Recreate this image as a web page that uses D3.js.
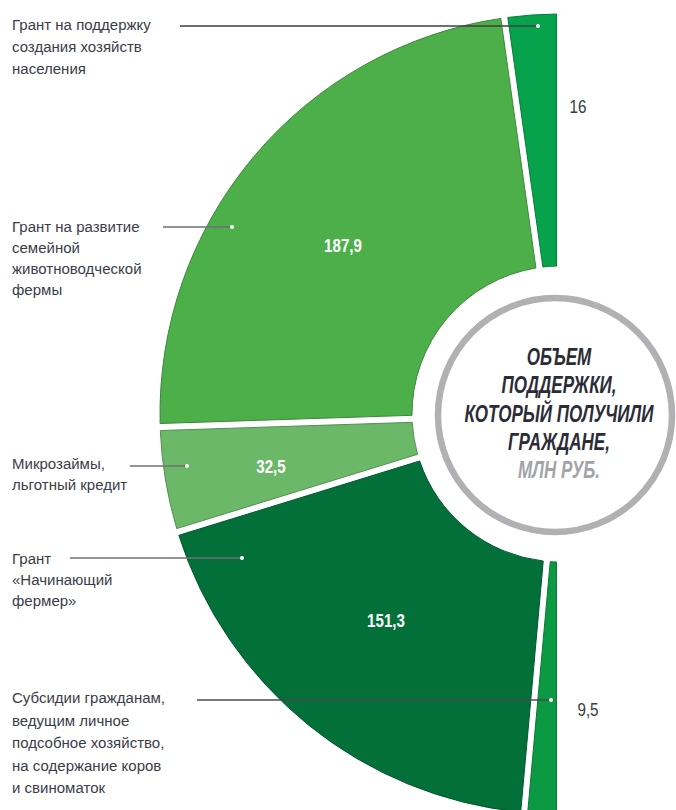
<!DOCTYPE html>
<html>
<head>
<meta charset="utf-8">
<script src="https://cdn.jsdelivr.net/npm/d3@7"></script>
<style>
  html, body { margin: 0; padding: 0; background: #fff; }
  svg { display: block; }
</style>
</head>
<body>
<script>
// ---------- data ----------
const categories = [
  ["Грант на поддержку", "создания хозяйств", "населения"],
  ["Грант на развитие", "семейной", "животноводческой", "фермы"],
  ["Микрозаймы,", "льготный кредит"],
  ["Грант", "«Начинающий", "фермер»"],
  ["Субсидии гражданам,", "ведущим личное", "подсобное хозяйство,", "на содержание коров", "и свиноматок"]
];
const values = [16, 187.9, 32.5, 151.3, 9.5];
const valueLabels = ["16", "187,9", "32,5", "151,3", "9,5"];
const colors = ["#07a24c", "#4daf49", "#6cb869", "#03703a", "#0b9a43"];
const titleLines = ["ОБЪЕМ", "ПОДДЕРЖКИ,", "КОТОРЫЙ ПОЛУЧИЛИ", "ГРАЖДАНЕ,"];
const unitLine = "МЛН РУБ.";

// ---------- layout ----------
const W = 676, H = 810;
const cx = 560, cy = 414, R = 400, r0 = 148;
const labelFirstBaseline = [30, 232, 469, 564, 703];
const labelLineGap = [22, 21, 21, 21, 22.5];
const leaderY = [26, 227, 466, 558, 700];
const leaderStartX = [180, 163, 130, 70, 197];
const dotX = [538, 232, 187, 242, 551];
const leaderColor = ["#3e3e46", "#707075", "#707075", "#707075", "#4a4a52"];
const valuePos = [[578, 113, "out"], [343, 252, "in"], [271, 473, "in"], [386, 627, "in"], [588, 716, "out"]];

const svg = d3.select("body").append("svg").attr("width", W).attr("height", H);

const pie = d3.pie().sort(null).startAngle(0).endAngle(-Math.PI).padAngle(0.0165);
const arc = d3.arc().innerRadius(r0).outerRadius(R).padRadius(Math.sqrt(r0 * r0 + R * R));
const arcs = pie(values);

const g = svg.append("g").attr("transform", `translate(${cx},${cy})`);
g.selectAll("path.slice").data(arcs).enter().append("path")
  .attr("class", "slice")
  .attr("d", arc)
  .attr("fill", (d, i) => colors[i])
  .attr("stroke", (d, i) => d3.color(colors[i]).darker(0.7))
  .attr("stroke-width", 1);

// centre circle
svg.append("circle").attr("cx", 555).attr("cy", 415).attr("r", 117)
  .attr("fill", "#fff").attr("stroke", "#b1b1b4").attr("stroke-width", 6.5);

// condensed text helper
function ctext(parent, x, y, str, opts) {
  return parent.append("text")
    .attr("transform", `translate(${x},${y}) scale(${opts.sx || 1},1)`)
    .attr("text-anchor", opts.anchor || "start")
    .attr("font-family", opts.family || "'Liberation Sans', Arial, sans-serif")
    .attr("font-size", opts.size)
    .attr("font-weight", opts.weight || "normal")
    .attr("font-style", opts.style || "normal")
    .attr("fill", opts.fill)
    .text(str);
}

// title in circle
const titleBase = [365, 393, 422, 450];
titleLines.forEach((t, i) => ctext(svg, 559, titleBase[i], t,
  {anchor: "middle", size: 24, weight: "bold", style: "italic", sx: 0.71, fill: "#2c2c36"}));
ctext(svg, 559, 478, unitLine,
  {anchor: "middle", size: 24, weight: "bold", style: "italic", sx: 0.71, fill: "#a3a3a8"});

// category labels + leaders
categories.forEach((lines, i) => {
  lines.forEach((t, j) => ctext(svg, 12, labelFirstBaseline[i] + j * labelLineGap[i], t,
    {size: 15.5, fill: "#3c3c48", sx: 0.97}));
  svg.append("line")
    .attr("x1", leaderStartX[i]).attr("x2", dotX[i])
    .attr("y1", leaderY[i]).attr("y2", leaderY[i])
    .attr("stroke", leaderColor[i]).attr("stroke-width", 1.4);
  svg.append("circle").attr("cx", dotX[i]).attr("cy", leaderY[i]).attr("r", 2)
    .attr("fill", "#fff");
});

// value labels
valueLabels.forEach((t, i) => {
  const [x, y, kind] = valuePos[i];
  if (kind === "in") {
    ctext(svg, x, y, t, {anchor: "middle", size: 18, weight: "bold", sx: 0.84, fill: "#ffffff"});
  } else {
    ctext(svg, x, y, t, {anchor: "middle", size: 19, sx: 0.8, fill: "#3a3a40"});
  }
});
</script>
</body>
</html>
